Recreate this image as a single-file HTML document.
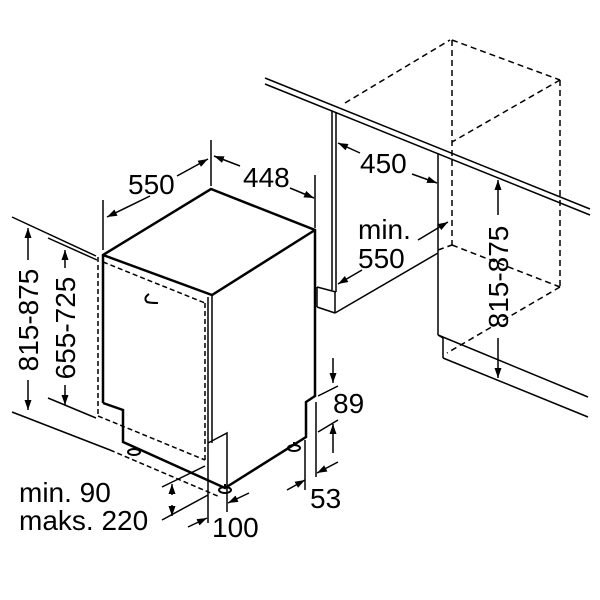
<!DOCTYPE html>
<html><head><meta charset="utf-8"><style>
html,body{margin:0;padding:0;background:#fff}
svg{display:block}
text{font-family:"Liberation Sans",sans-serif;font-size:28px;fill:#000}
</style></head><body>
<svg width="600" height="600" viewBox="0 0 600 600" xmlns="http://www.w3.org/2000/svg">
<defs>
<marker id="a" viewBox="0 0 10 10" refX="10" refY="5" markerWidth="10" markerHeight="10" markerUnits="userSpaceOnUse" orient="auto"><path d="M0,1.5 L10,5 L0,8.5 Z" fill="#000"/></marker>
</defs>
<g fill="none" stroke="#000" stroke-width="1.5">
<line x1="12" y1="217" x2="96" y2="256"/>
<line x1="48" y1="238" x2="97" y2="260"/>
<line x1="12" y1="412" x2="110" y2="450"/>
<line x1="48" y1="398" x2="96" y2="418"/>
<g stroke-dasharray="5,3">
<line x1="98" y1="257" x2="98" y2="416"/>
<line x1="103" y1="262" x2="205" y2="303"/>
<line x1="205" y1="303" x2="205" y2="460"/>
<line x1="98" y1="416" x2="205" y2="460"/>
<line x1="110" y1="450" x2="220" y2="497"/>
</g>
<g stroke-width="2.5">
<polyline points="103,403 103,255 211,189 315,230 315,396 306,402 306,437 225,488 123,442 123,410 103,403"/>
<polyline points="103,255 212,295 315,230"/>
</g>
<line x1="208" y1="297" x2="208" y2="523"/>
<line x1="212" y1="295" x2="212" y2="443"/>
<polyline points="208,443 227,433 227,512"/>
<path d="M149,294 q-6,4 -2,8 q3,1 11,1" stroke-width="2"/>
<g stroke-width="2"><ellipse cx="134" cy="452" rx="6" ry="3"/><ellipse cx="225" cy="490" rx="6" ry="3"/><ellipse cx="294" cy="448" rx="6" ry="3"/>
<line x1="134" y1="446" x2="134" y2="450"/><line x1="225" y1="484" x2="225" y2="488"/><line x1="294" y1="442" x2="294" y2="446"/></g>
<line x1="103" y1="200" x2="103" y2="250"/>
<line x1="211" y1="140" x2="211" y2="186"/>
<line x1="315" y1="175" x2="315" y2="228"/>
<line x1="150" y1="196" x2="107" y2="217" marker-end="url(#a)"/>
<line x1="177" y1="176" x2="208" y2="159" marker-end="url(#a)"/>
<line x1="240" y1="166" x2="214" y2="156" marker-end="url(#a)"/>
<line x1="290" y1="188" x2="314" y2="198" marker-end="url(#a)"/>
<line x1="28" y1="260" x2="28" y2="228" marker-end="url(#a)"/>
<line x1="28" y1="380" x2="28" y2="410" marker-end="url(#a)"/>
<line x1="65" y1="268" x2="65" y2="250" marker-end="url(#a)"/>
<line x1="65" y1="385" x2="65" y2="405" marker-end="url(#a)"/>
<line x1="265" y1="78" x2="590" y2="209"/>
<line x1="265" y1="84" x2="590" y2="215"/>
<line x1="332" y1="111" x2="332" y2="290"/>
<line x1="336" y1="113" x2="336" y2="292"/>
<line x1="317" y1="287" x2="336" y2="292"/>
<line x1="317" y1="287" x2="317" y2="307"/>
<line x1="317" y1="307" x2="335" y2="313"/>
<line x1="335" y1="292" x2="335" y2="313"/>
<line x1="335" y1="313" x2="438" y2="253"/>
<line x1="438" y1="153" x2="438" y2="335"/>
<line x1="438" y1="335" x2="588" y2="397"/>
<line x1="438" y1="335" x2="443" y2="338"/>
<line x1="443" y1="338" x2="443" y2="358"/>
<line x1="443" y1="358" x2="588" y2="417"/>
<g stroke-dasharray="6,4">
<line x1="345" y1="103" x2="450" y2="40"/>
<line x1="452" y1="40" x2="560" y2="80"/>
<line x1="560" y1="80" x2="452" y2="142"/>
<line x1="452" y1="40" x2="452" y2="245"/>
<line x1="560" y1="80" x2="560" y2="287"/>
<line x1="452" y1="245" x2="560" y2="287"/>
<line x1="560" y1="287" x2="447" y2="353"/>
<line x1="438" y1="250" x2="452" y2="245"/>
</g>
<line x1="360" y1="153" x2="338" y2="143" marker-end="url(#a)"/>
<line x1="412" y1="174" x2="437" y2="183" marker-end="url(#a)"/>
<line x1="418" y1="240" x2="448" y2="222" marker-end="url(#a)"/>
<line x1="362" y1="270" x2="338" y2="284" marker-end="url(#a)"/>
<line x1="498" y1="215" x2="498" y2="180" marker-end="url(#a)"/>
<line x1="498" y1="338" x2="498" y2="378" marker-end="url(#a)"/>
<line x1="318" y1="396" x2="338" y2="386"/>
<line x1="318" y1="432" x2="338" y2="420"/>
<line x1="333" y1="358" x2="333" y2="383" marker-end="url(#a)"/>
<line x1="333" y1="453" x2="333" y2="424" marker-end="url(#a)"/>
<line x1="305" y1="440" x2="305" y2="490"/>
<line x1="316" y1="402" x2="316" y2="477"/>
<line x1="287" y1="490" x2="305" y2="480" marker-end="url(#a)"/>
<line x1="338" y1="462" x2="317" y2="473" marker-end="url(#a)"/>
<line x1="162" y1="487" x2="205" y2="466"/>
<line x1="162" y1="520" x2="208" y2="495"/>
<line x1="172" y1="495" x2="172" y2="484" marker-end="url(#a)"/>
<line x1="172" y1="505" x2="172" y2="516" marker-end="url(#a)"/>
<line x1="188" y1="527" x2="207" y2="518" marker-end="url(#a)"/>
<line x1="249" y1="493" x2="228" y2="503" marker-end="url(#a)"/>
</g>
<text x="128" y="194">550</text>
<text x="243" y="187">448</text>
<text x="360" y="173">450</text>
<text x="358" y="239">min.</text>
<text x="358" y="268">550</text>
<text x="333" y="413">89</text>
<text x="310" y="508">53</text>
<text x="19" y="502">min. 90</text>
<text x="19" y="530">maks. 220</text>
<text x="212" y="537">100</text>
<text transform="translate(38,320) rotate(-90)" text-anchor="middle">815-875</text>
<text transform="translate(75,328) rotate(-90)" text-anchor="middle">655-725</text>
<text transform="translate(508,277) rotate(-90)" text-anchor="middle">815-875</text>
</svg>
</body></html>
